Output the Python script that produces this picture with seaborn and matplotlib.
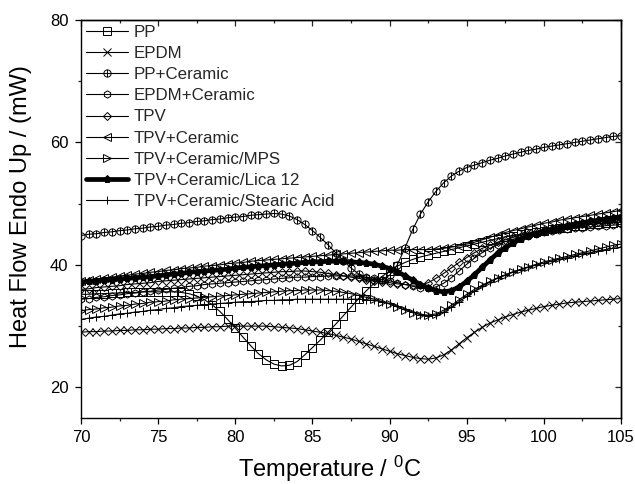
import matplotlib
matplotlib.use('Agg')
import matplotlib.pyplot as plt
import seaborn as sns
from matplotlib.path import Path
from matplotlib.ticker import MultipleLocator, NullFormatter

temperature = [70.0, 70.5, 71.0, 71.5, 72.0, 72.5, 73.0, 73.5, 74.0, 74.5,
               75.0, 75.5, 76.0, 76.5, 77.0, 77.5, 78.0, 78.5, 79.0, 79.5,
               80.0, 80.5, 81.0, 81.5, 82.0, 82.5, 83.0, 83.5, 84.0, 84.5,
               85.0, 85.5, 86.0, 86.5, 87.0, 87.5, 88.0, 88.5, 89.0, 89.5,
               90.0, 90.5, 91.0, 91.5, 92.0, 92.5, 93.0, 93.5, 94.0, 94.5,
               95.0, 95.5, 96.0, 96.5, 97.0, 97.5, 98.0, 98.5, 99.0, 99.5,
               100.0, 100.5, 101.0, 101.5, 102.0, 102.5, 103.0, 103.5, 104.0, 104.5,
               105.0]

pp = [35.2, 35.2, 35.3, 35.3, 35.4, 35.4, 35.5, 35.5, 35.6, 35.6,
      35.6, 35.6, 35.6, 35.5, 35.3, 34.9, 34.3, 33.5, 32.4, 31.1,
      29.7, 28.2, 26.8, 25.5, 24.5, 23.8, 23.5, 23.6, 24.2, 25.3,
      26.5, 27.7, 29.0, 30.3, 31.7, 33.1, 34.5, 35.8, 37.0, 38.1,
      39.0, 39.8, 40.4, 40.9, 41.3, 41.6, 41.9, 42.2, 42.5, 42.8,
      43.1, 43.4, 43.7, 44.0, 44.3, 44.6, 44.8, 45.0, 45.2, 45.4,
      45.6, 45.8, 46.0, 46.1, 46.3, 46.4, 46.6, 46.7, 46.8, 46.9,
      47.0]

epdm = [29.0, 29.1, 29.1, 29.2, 29.2, 29.3, 29.3, 29.4, 29.4, 29.5,
        29.5, 29.6, 29.6, 29.7, 29.7, 29.8, 29.8, 29.9, 29.9, 30.0,
        30.0, 30.0, 30.0, 30.0, 30.0, 29.9, 29.8, 29.7, 29.6, 29.4,
        29.2, 29.0, 28.8, 28.5, 28.2, 27.9, 27.5, 27.1, 26.7, 26.3,
        25.9, 25.5, 25.2, 24.9, 24.7, 24.6, 24.8, 25.3, 26.1, 27.1,
        28.1, 29.0, 29.8, 30.5, 31.0, 31.5, 31.9, 32.3, 32.6, 32.9,
        33.2, 33.4, 33.6, 33.8, 33.9, 34.0, 34.1, 34.2, 34.3, 34.4,
        34.5]

pp_ceramic = [44.8, 45.0, 45.1, 45.3, 45.4, 45.6, 45.7, 45.9, 46.0, 46.2,
              46.3, 46.5, 46.6, 46.8, 46.9, 47.1, 47.2, 47.4, 47.5, 47.7,
              47.8, 47.9, 48.1, 48.2, 48.3, 48.4, 48.3, 48.0, 47.4, 46.6,
              45.6, 44.5, 43.3, 42.0, 40.7, 39.5, 38.5, 37.8, 37.5, 37.6,
              38.3, 40.0, 42.8, 45.8, 48.3, 50.3, 52.0, 53.4, 54.5, 55.3,
              55.9, 56.3, 56.7, 57.1, 57.4, 57.8, 58.1, 58.4, 58.7, 58.9,
              59.2, 59.4, 59.6, 59.8, 60.0, 60.2, 60.4, 60.6, 60.8, 61.0,
              61.1]

epdm_ceramic = [34.4, 34.5, 34.7, 34.8, 35.0, 35.1, 35.3, 35.4, 35.6, 35.7,
                35.9, 36.0, 36.2, 36.3, 36.5, 36.6, 36.8, 36.9, 37.0, 37.1,
                37.2, 37.3, 37.4, 37.5, 37.6, 37.7, 37.8, 37.9, 38.0, 38.0,
                38.1, 38.1, 38.2, 38.2, 38.2, 38.2, 38.1, 38.0, 37.8, 37.6,
                37.4, 37.1, 36.8, 36.5, 36.3, 36.2, 36.4, 37.0, 37.9, 39.0,
                40.1, 41.1, 42.0, 42.7, 43.3, 43.8, 44.2, 44.5, 44.8, 45.1,
                45.3, 45.5, 45.7, 45.8, 46.0, 46.1, 46.2, 46.3, 46.4, 46.5,
                46.6]

tpv = [36.0, 36.1, 36.3, 36.4, 36.5, 36.6, 36.8, 36.9, 37.0, 37.1,
       37.3, 37.4, 37.5, 37.6, 37.7, 37.8, 37.9, 38.0, 38.1, 38.2,
       38.3, 38.4, 38.5, 38.6, 38.7, 38.8, 38.9, 38.9, 39.0, 39.0,
       38.9, 38.8, 38.6, 38.4, 38.2, 38.0, 37.8, 37.6, 37.4, 37.2,
       37.1, 36.9, 36.8, 36.7, 36.7, 37.1, 37.8, 38.6, 39.5, 40.4,
       41.2, 42.0, 42.7, 43.2, 43.7, 44.1, 44.5, 44.8, 45.1, 45.4,
       45.7, 45.9, 46.1, 46.3, 46.5, 46.7, 46.9, 47.0, 47.2, 47.3,
       47.5]

tpv_ceramic = [37.4, 37.6, 37.7, 37.9, 38.0, 38.2, 38.3, 38.5, 38.6, 38.8,
               38.9, 39.1, 39.2, 39.4, 39.5, 39.6, 39.8, 39.9, 40.0, 40.2,
               40.3, 40.4, 40.6, 40.7, 40.8, 40.9, 41.0, 41.1, 41.2, 41.3,
               41.4, 41.5, 41.6, 41.7, 41.8, 41.9, 42.0, 42.1, 42.2, 42.3,
               42.4, 42.4, 42.5, 42.5, 42.5, 42.5, 42.6, 42.7, 42.9, 43.1,
               43.4, 43.7, 44.1, 44.5, 44.9, 45.3, 45.6, 45.9, 46.2, 46.5,
               46.8, 47.0, 47.3, 47.5, 47.7, 47.9, 48.1, 48.3, 48.5, 48.7,
               48.9]

tpv_mps = [32.5, 32.7, 32.8, 33.0, 33.1, 33.3, 33.4, 33.6, 33.7, 33.9,
           34.0, 34.1, 34.3, 34.4, 34.5, 34.6, 34.7, 34.8, 34.9, 35.0,
           35.1, 35.2, 35.3, 35.4, 35.5, 35.6, 35.7, 35.8, 35.8, 35.9,
           35.9, 35.9, 35.8, 35.7, 35.5, 35.3, 35.0, 34.7, 34.4, 34.0,
           33.6, 33.1, 32.6, 32.2, 31.9, 31.8, 32.0, 32.6, 33.4, 34.3,
           35.2, 36.0, 36.7, 37.3, 37.9, 38.4, 38.9, 39.3, 39.7, 40.1,
           40.5, 40.8, 41.1, 41.4, 41.7, 42.0, 42.3, 42.6, 42.9, 43.2,
           43.4]

tpv_lica = [37.2, 37.3, 37.4, 37.5, 37.6, 37.7, 37.8, 37.9, 38.0, 38.1,
            38.2, 38.4, 38.5, 38.6, 38.8, 38.9, 39.0, 39.1, 39.2, 39.3,
            39.5, 39.6, 39.7, 39.8, 39.9, 40.0, 40.1, 40.2, 40.3, 40.4,
            40.5, 40.5, 40.6, 40.6, 40.6, 40.5, 40.4, 40.3, 40.1, 39.8,
            39.4, 38.9, 38.2, 37.5, 36.8, 36.2, 35.8, 35.6, 35.8, 36.4,
            37.3, 38.4, 39.6, 40.8, 41.9, 42.8, 43.6, 44.2, 44.7, 45.1,
            45.5, 45.8, 46.1, 46.4, 46.6, 46.9, 47.1, 47.3, 47.5, 47.7,
            47.9]

tpv_stearic = [31.1, 31.3, 31.5, 31.6, 31.8, 32.0, 32.1, 32.3, 32.4, 32.6,
               32.7, 32.9, 33.0, 33.2, 33.3, 33.4, 33.5, 33.6, 33.7, 33.8,
               33.9, 34.0, 34.0, 34.1, 34.2, 34.2, 34.3, 34.3, 34.4, 34.4,
               34.4, 34.4, 34.4, 34.4, 34.4, 34.4, 34.4, 34.3, 34.2, 34.0,
               33.7, 33.3, 32.8, 32.3, 31.9, 31.7, 31.8, 32.3, 33.1, 34.0,
               34.9, 35.7, 36.5, 37.2, 37.8, 38.3, 38.8, 39.2, 39.6, 40.0,
               40.3, 40.6, 40.9, 41.2, 41.5, 41.8, 42.0, 42.3, 42.5, 42.7,
               42.9]

sns.set_theme(style='ticks')
plt.rcParams['font.family'] = ['Liberation Sans', 'DejaVu Sans']
plt.rcParams['mathtext.default'] = 'regular'

fig = plt.figure(figsize=(6.35, 4.84), dpi=100)
ax = fig.add_axes([0.1276, 0.1364, 0.8504, 0.8223])

# circle with a vertical bar, like the Origin symbol
circle_bar = Path.make_compound_path(
    Path.unit_circle(),
    Path([[0, -1], [0, 1]], [Path.MOVETO, Path.LINETO]))

series = [
    ('PP', pp, 's', 'none', 0.8),
    ('EPDM', epdm, 'x', 'none', 0.8),
    ('PP+Ceramic', pp_ceramic, circle_bar, 'none', 0.8),
    ('EPDM+Ceramic', epdm_ceramic, 'h', 'none', 0.8),
    ('TPV', tpv, 'D', 'none', 0.8),
    ('TPV+Ceramic', tpv_ceramic, '<', 'none', 0.8),
    ('TPV+Ceramic/MPS', tpv_mps, '>', 'none', 0.8),
    ('TPV+Ceramic/Lica 12', tpv_lica, 'p', 'black', 3.4),
    ('TPV+Ceramic/Stearic Acid', tpv_stearic, '+', 'none', 0.8),
]

for label, values, marker, face, lw in series:
    ms = 4.4 if marker == 'D' else 5.2
    sns.lineplot(x=temperature, y=values, ax=ax, label=label, color='black',
                 marker=marker, markersize=ms, markerfacecolor=face,
                 markeredgecolor='black', markeredgewidth=0.7,
                 linewidth=lw, sort=False, estimator=None)

ax.set_xlim(70, 105)
ax.set_ylim(15, 80)
ax.xaxis.set_major_locator(MultipleLocator(5))
ax.xaxis.set_minor_locator(MultipleLocator(2.5))
ax.yaxis.set_major_locator(MultipleLocator(20))
ax.yaxis.set_minor_locator(MultipleLocator(10))
ax.tick_params(which='major', direction='out', length=4, width=0.9,
               labelsize=12, colors='black', pad=5)
ax.tick_params(which='minor', direction='out', length=2.5, width=0.9)

# inward ticks on the top and right frame
top = ax.secondary_xaxis('top')
top.xaxis.set_major_locator(MultipleLocator(5))
top.xaxis.set_minor_locator(MultipleLocator(2.5))
top.xaxis.set_major_formatter(NullFormatter())
top.tick_params(which='major', direction='in', length=4, width=0.9)
top.tick_params(which='minor', direction='in', length=2.5, width=0.9)
right = ax.secondary_yaxis('right')
right.yaxis.set_major_locator(MultipleLocator(20))
right.yaxis.set_minor_locator(MultipleLocator(10))
right.yaxis.set_major_formatter(NullFormatter())
right.tick_params(which='major', direction='in', length=4, width=0.9)
right.tick_params(which='minor', direction='in', length=2.5, width=0.9)

for sp in list(ax.spines.values()) + [top.spines['top'], right.spines['right']]:
    sp.set_color('black')
    sp.set_linewidth(1.0)

ax.set_xlabel('Temperature / $^{0}$C', fontsize=17, color='black')
ax.set_ylabel('Heat Flow Endo Up / (mW)', fontsize=17, color='black')
ax.xaxis.set_label_coords(0.46, -0.09)
ax.yaxis.set_label_coords(-0.09, 0.53)

ax.legend(loc='upper left', frameon=False, fontsize=12.2, handlelength=2.5,
          labelspacing=0.36, handletextpad=0.3, borderaxespad=0.2,
          borderpad=0.1)

fig.savefig('out.png', dpi=100)
